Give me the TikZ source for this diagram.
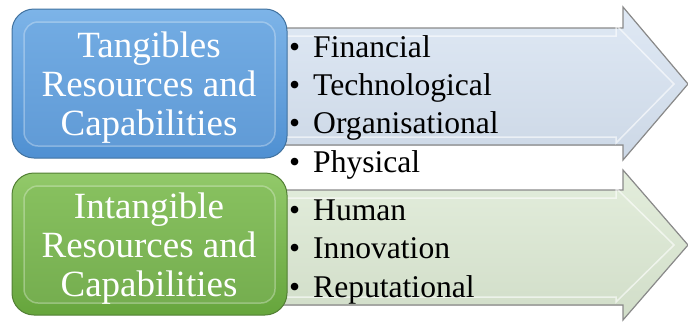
\documentclass[tikz,border=0pt]{standalone}
\usepackage{fontspec}
\setmainfont{Liberation Serif}
\usetikzlibrary{calc}
\definecolor{bluetop}{HTML}{7DB4E8}
\definecolor{bluebot}{HTML}{4F90D2}
\definecolor{blueedge}{HTML}{41729F}
\definecolor{greentop}{HTML}{92C96A}
\definecolor{greenbot}{HTML}{66A53C}
\definecolor{greenedge}{HTML}{527F34}
\definecolor{arrowblue}{HTML}{D7E3F2}
\definecolor{arrowgreen}{HTML}{DCE9D3}
\definecolor{arrowedge}{HTML}{8A8A8A}
\tikzset{
  boxtext/.style={text=white, align=center, font=\fontsize{37}{39}\selectfont},
  itemtext/.style={anchor=base west, inner sep=0pt, font=\fontsize{31.6}{38}\selectfont},
  arrowbody/.style={draw=arrowedge, line width=1.2pt},
  bevel/.style={draw=white, line width=1.5pt, opacity=0.6},
  boxbevel/.style={draw=white, opacity=0.3, line width=1.5pt, rounded corners=14pt},
}
\newcommand{\itm}[1]{\makebox[24pt][l]{\textbullet}#1}
\begin{document}
\begin{tikzpicture}[x=1pt,y=-1pt]
\useasboundingbox (0,0) rectangle (688,322);

% ---- arrows behind the boxes ----
\filldraw[arrowbody, top color=arrowblue!80!white, bottom color=arrowblue!95!black]
  (270,28) -- (623,28) -- (623,7) -- (688,84) -- (623,160) -- (623,145) -- (270,145) -- cycle;
\draw[bevel] (270,36) -- (616,36) -- (616,25) -- (674,84) -- (616,143) -- (616,137) -- (270,137);
\filldraw[arrowbody, top color=arrowgreen!80!white, bottom color=arrowgreen!95!black]
  (270,190) -- (623,190) -- (623,170) -- (688,245) -- (623,320) -- (623,305) -- (270,305) -- cycle;
\draw[bevel] (270,198) -- (616,198) -- (616,188) -- (674,245) -- (616,302) -- (616,297) -- (270,297);

% ---- category boxes ----
\shade[top color=bluetop, bottom color=bluebot, rounded corners=22pt, draw=blueedge, line width=1pt]
  (12,9) rectangle (287,158);
\shade[top color=bluetop!75!bluebot, bottom color=bluebot!90!white, rounded corners=14pt]
  (24,22) rectangle (275,146);
\draw[boxbevel] (24,22) rectangle (275,146);

\shade[top color=greentop, bottom color=greenbot, rounded corners=22pt, draw=greenedge, line width=1pt]
  (12,173) rectangle (287,315);
\shade[top color=greentop!75!greenbot, bottom color=greenbot!90!white, rounded corners=14pt]
  (24,186) rectangle (275,303);
\draw[boxbevel] (24,186) rectangle (275,303);

\node[boxtext] (tang) at (149,88) {Tangibles\\Resources and\\Capabilities};
\node[boxtext] (intang) at (149,249) {Intangible\\Resources and\\Capabilities};

% ---- resource lists ----
\node[itemtext] (fin)  at (289,57)  {\itm{Financial}};
\node[itemtext] (tech) at (289,95)  {\itm{Technological}};
\node[itemtext] (org)  at (289,133) {\itm{Organisational}};
\node[itemtext] (phys) at (289,172) {\itm{Physical}};

\node[itemtext] (hum)  at (289,220) {\itm{Human}};
\node[itemtext] (inn)  at (289,258) {\itm{Innovation}};
\node[itemtext] (rep)  at (289,297) {\itm{Reputational}};
\end{tikzpicture}
\end{document}
